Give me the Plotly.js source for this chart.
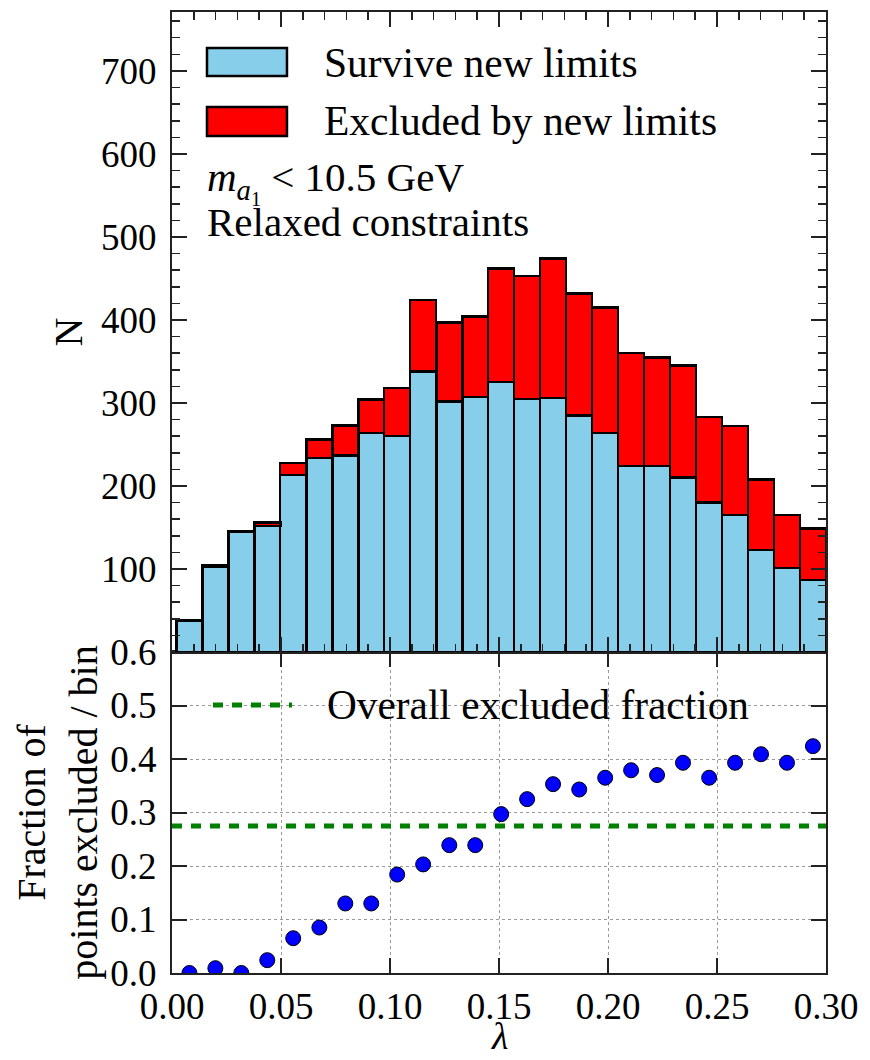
<!DOCTYPE html>
<html>
<head>
<meta charset="utf-8">
<script src="https://cdn.plot.ly/plotly-3.0.1.min.js"></script>
<style>
  html, body { margin: 0; padding: 0; background: #fff; }
  #chart { width: 870px; height: 1060px; }
</style>
</head>
<body>
<div id="chart"></div>
<script>
// Histogram of lambda for points with m_a1 < 10.5 GeV (relaxed constraints)
const lambdaCenters = [0.0080, 0.0199, 0.0318, 0.0437, 0.0556, 0.0676, 0.0795, 0.0914,
  0.1033, 0.1152, 0.1272, 0.1391, 0.1510, 0.1629, 0.1748, 0.1868, 0.1987, 0.2106,
  0.2225, 0.2344, 0.2464, 0.2583, 0.2702, 0.2821, 0.2940];
const binWidth = 0.01192;

// Counts per bin
const surviveCounts = [38, 103, 145, 152, 213, 234, 237, 264, 260, 338, 302, 307, 325,
  305, 306, 285, 264, 224, 224, 210, 180, 165, 123, 101, 87];
const excludedCounts = [0, 1, 0, 4, 15, 22, 36, 40, 58, 86, 95, 97, 137,
  148, 168, 147, 151, 136, 131, 135, 103, 107, 85, 64, 62];

// Fraction of points excluded in each bin
const excludedFraction = [0.0, 0.009, 0.0, 0.024, 0.065, 0.085, 0.130, 0.130, 0.184,
  0.203, 0.239, 0.239, 0.297, 0.325, 0.353, 0.343, 0.365, 0.379, 0.370, 0.393, 0.365,
  0.393, 0.409, 0.393, 0.424];
const overallFraction = 0.275;

const lambdaRange = [0.0, 0.30];
const countTicks = [100, 200, 300, 400, 500, 600, 700];
const fractionTicks = [0.0, 0.1, 0.2, 0.3, 0.4, 0.5, 0.6];
const lambdaTicks = [0.00, 0.05, 0.10, 0.15, 0.20, 0.25, 0.30];

const FONT = 'Liberation Serif, Times New Roman, serif';
const AX = '#222';
const SKY = '#87CEEB';
const RED = '#FF0000';
const GREEN = '#008000';

const widths = lambdaCenters.map(() => binWidth);

const traces = [
  {
    type: 'bar', name: 'Survive new limits',
    x: lambdaCenters, y: surviveCounts, width: widths,
    xaxis: 'x2', yaxis: 'y2',
    marker: { color: SKY, line: { color: '#000', width: 2.5 } },
    showlegend: false, hoverinfo: 'x+y'
  },
  {
    type: 'bar', name: 'Excluded by new limits',
    x: lambdaCenters, y: excludedCounts, width: widths,
    xaxis: 'x2', yaxis: 'y2',
    marker: { color: RED, line: { color: '#000', width: 2.5 } },
    showlegend: false, hoverinfo: 'x+y'
  },
  {
    type: 'scatter', mode: 'lines', name: 'Overall excluded fraction',
    x: lambdaRange, y: [overallFraction, overallFraction],
    xaxis: 'x', yaxis: 'y',
    line: { color: GREEN, width: 5, dash: '10px,9px' },
    showlegend: false, hoverinfo: 'skip'
  },
  {
    type: 'scatter', mode: 'markers', name: 'Fraction excluded',
    x: lambdaCenters, y: excludedFraction,
    xaxis: 'x', yaxis: 'y',
    marker: { color: '#0000FF', size: 15, line: { color: '#000', width: 1 } },
    cliponaxis: true, showlegend: false
  }
];

const tickFont = { family: FONT, size: 37, color: '#000' };
const split = 0.334;

const layout = {
  width: 870, height: 1060,
  margin: { l: 172, r: 44, t: 12, b: 87 },
  paper_bgcolor: '#fff', plot_bgcolor: '#fff',
  font: { family: FONT, color: '#000' },
  barmode: 'stack', bargap: 0,
  showlegend: false,
  xaxis: {
    domain: [0, 1], anchor: 'y', range: lambdaRange,
    tickvals: lambdaTicks, tickformat: '.2f', tickfont: tickFont,
    ticks: 'inside', ticklen: 15, tickwidth: 2, tickcolor: AX,
    showline: true, linecolor: AX, linewidth: 2, mirror: 'allticks',
    showgrid: true, gridcolor: '#999', gridwidth: 1, griddash: 'dot',
    zeroline: false
  },
  yaxis: {
    domain: [0, split], anchor: 'x', range: [0, 0.6],
    tickvals: fractionTicks, tickformat: '.1f', tickfont: tickFont,
    ticks: 'inside', ticklen: 15, tickwidth: 2, tickcolor: AX,
    showline: true, linecolor: AX, linewidth: 2, mirror: 'allticks',
    showgrid: true, gridcolor: '#999', gridwidth: 1, griddash: 'dot',
    zeroline: false, ticklabelstandoff: 6,
    title: { text: 'Fraction of<br>points excluded / bin', font: { family: FONT, size: 40 }, standoff: 0 }
  },
  xaxis2: {
    domain: [0, 1], anchor: 'y2', matches: 'x', range: lambdaRange,
    tickvals: lambdaTicks, showticklabels: false,
    ticks: 'inside', ticklen: 15, tickwidth: 2, tickcolor: AX,
    minor: { dtick: 0.01, tick0: 0, ticks: 'inside', ticklen: 8, tickwidth: 1.5, tickcolor: AX, showgrid: false },
    showline: true, linecolor: AX, linewidth: 2, mirror: 'allticks',
    showgrid: false, zeroline: false
  },
  yaxis2: {
    domain: [split, 1], anchor: 'x2', range: [0, 771],
    tickvals: countTicks, tickfont: tickFont,
    ticks: 'inside', ticklen: 15, tickwidth: 2, tickcolor: AX,
    minor: { dtick: 20, tick0: 0, ticks: 'inside', ticklen: 8, tickwidth: 1.5, tickcolor: AX, showgrid: false },
    showline: true, linecolor: AX, linewidth: 2, mirror: 'allticks',
    showgrid: false, zeroline: false, ticklabelstandoff: 6,
    title: { text: 'N', font: { family: FONT, size: 40 }, standoff: 6 }
  },
  shapes: [
    // legend swatches, upper panel
    { type: 'rect', xref: 'paper', yref: 'paper', x0: 0.0535, x1: 0.1758, y0: 0.9334, y1: 0.9625,
      fillcolor: SKY, line: { color: '#000', width: 2.5 } },
    { type: 'rect', xref: 'paper', yref: 'paper', x0: 0.0535, x1: 0.1758, y0: 0.8710, y1: 0.9011,
      fillcolor: RED, line: { color: '#000', width: 2.5 } },
    // legend line, lower panel
    { type: 'line', xref: 'paper', yref: 'paper', x0: 0.0627, x1: 0.1835, y0: 0.2789, y1: 0.2789,
      line: { color: GREEN, width: 5, dash: '10px,9px' } }
  ],
  annotations: [
    { xref: 'paper', yref: 'paper', x: 0.2294, y: 0.947, xanchor: 'left', yanchor: 'middle',
      text: 'Survive new limits', showarrow: false, font: { family: FONT, size: 41.5 } },
    { xref: 'paper', yref: 'paper', x: 0.2294, y: 0.8866, xanchor: 'left', yanchor: 'middle',
      text: 'Excluded by new limits', showarrow: false, font: { family: FONT, size: 41.5 } },
    { xref: 'paper', yref: 'paper', x: 0.050, y: 0.823, xanchor: 'left', yanchor: 'middle',
      text: '<i>m</i><sub><i>a</i><sub>1</sub></sub> &lt; 10.5 GeV', showarrow: false,
      font: { family: FONT, size: 41 } },
    { xref: 'paper', yref: 'paper', x: 0.050, y: 0.7815, xanchor: 'left', yanchor: 'middle',
      text: 'Relaxed constraints', showarrow: false, font: { family: FONT, size: 41 } },
    { xref: 'paper', yref: 'paper', x: 0.2339, y: 0.2789, xanchor: 'left', yanchor: 'middle',
      text: 'Overall excluded fraction', showarrow: false, font: { family: FONT, size: 41.3 } },
    // x-axis title
    { xref: 'paper', yref: 'paper', x: 0.5, y: -0.066, xanchor: 'center', yanchor: 'middle',
      text: '<i>λ</i>', showarrow: false, font: { family: FONT, size: 38 } }
  ]
};

Plotly.newPlot('chart', traces, layout, { staticPlot: true, displayModeBar: false });
</script>
</body>
</html>
